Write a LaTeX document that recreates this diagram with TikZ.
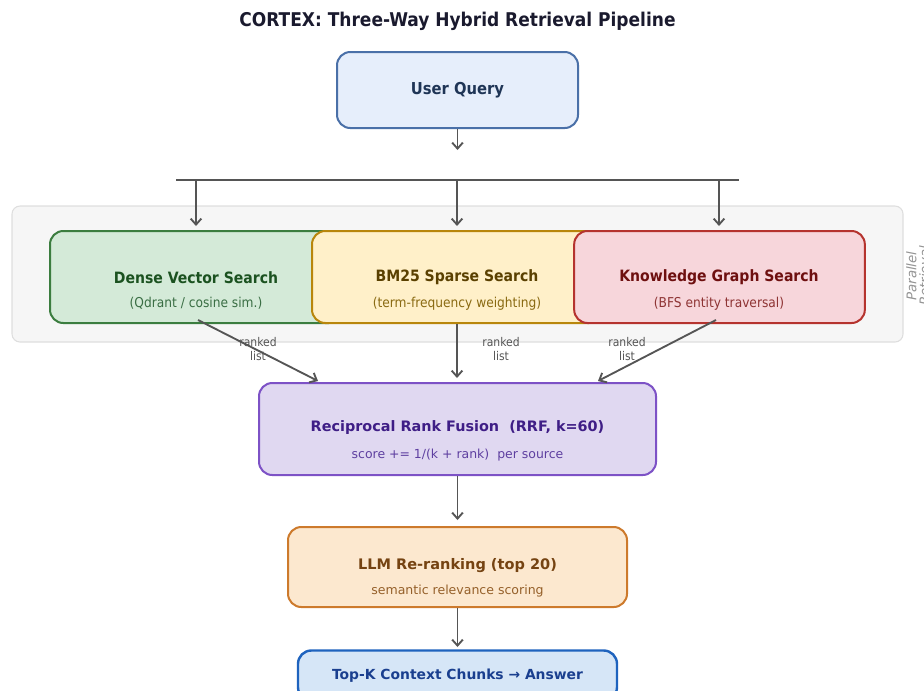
\documentclass[tikz,border=0pt]{standalone}
\usepackage{fontspec}
\setmainfont{DejaVu Sans}
\newfontfamily\cond{DejaVu Sans Condensed}
\usetikzlibrary{arrows.meta}
\definecolor{arrowc}{HTML}{555555}
\definecolor{uqfill}{HTML}{E6EEFB}\definecolor{uqdraw}{HTML}{4A70A8}\definecolor{uqtext}{HTML}{1F3556}
\definecolor{dvfill}{HTML}{D4EAD8}\definecolor{dvdraw}{HTML}{3B7D3F}\definecolor{dvtext}{HTML}{1B5220}\definecolor{dvsub}{HTML}{3A6E44}
\definecolor{bmfill}{HTML}{FFF0C9}\definecolor{bmdraw}{HTML}{B8860B}\definecolor{bmtext}{HTML}{5A4000}\definecolor{bmsub}{HTML}{8A6A12}
\definecolor{kgfill}{HTML}{F7D6DB}\definecolor{kgdraw}{HTML}{B5332E}\definecolor{kgtext}{HTML}{6E0F0F}\definecolor{kgsub}{HTML}{8E3434}
\definecolor{rrfill}{HTML}{E0D8F1}\definecolor{rrdraw}{HTML}{7D52C6}\definecolor{rrtext}{HTML}{3F1E86}\definecolor{rrsub}{HTML}{5E3FA0}
\definecolor{llfill}{HTML}{FCE8CF}\definecolor{lldraw}{HTML}{CD7A2C}\definecolor{lltext}{HTML}{754312}\definecolor{llsub}{HTML}{95602A}
\definecolor{tkfill}{HTML}{D6E6F7}\definecolor{tkdraw}{HTML}{1E63BE}\definecolor{tktext}{HTML}{1A3F8F}
\definecolor{panelfill}{HTML}{F6F6F6}\definecolor{paneldraw}{HTML}{DEDEDE}
\definecolor{titlec}{HTML}{1A1A2E}
\begin{document}
\begin{tikzpicture}[x=0.75pt,y=-0.75pt,
  box/.style={rounded corners=10pt,line width=1.5pt,inner sep=0pt},
  arr/.style={draw=arrowc,line width=1.4pt,-{Straight Barb[length=4.5pt,width=8pt]}},
  ttl/.style={font=\cond\bfseries\fontsize{11.7}{13}\selectfont},
  sub/.style={font=\cond\fontsize{10.2}{12}\selectfont},
  lbl/.style={font=\cond\fontsize{9}{10.5}\selectfont,text=arrowc,align=center}]
\useasboundingbox (0,0) rectangle (924,690);
\node[font=\cond\bfseries\fontsize{14.2}{16}\selectfont,text=titlec] (title) at (457.5,21) {CORTEX: Three-Way Hybrid Retrieval Pipeline};
% query
\node[box,fill=uqfill,draw=uqdraw,minimum width=180.75pt,minimum height=57pt] (uq) at (457.5,90) {};
\node[text=uqtext,font=\cond\bfseries\fontsize{12.3}{14}\selectfont] (uqt) at (457.5,90.5) {User Query};
\coordinate (qa) at (457.5,150);
\draw[arr] (uq.south) -- (qa);
% bar
\coordinate (barL) at (176,180);
\coordinate (barR) at (739,180);
\coordinate (b1) at (196,180);
\coordinate (b2) at (457,180);
\coordinate (b3) at (719,180);
\draw[draw=arrowc,line width=1.6pt] (barL) -- (barR);
% panel
\draw[fill=panelfill,draw=paneldraw,line width=0.8pt,rounded corners=6pt] (12,206) rectangle (903,342);
\node[font=\itshape\fontsize{10}{9.75}\selectfont,text=black!42,rotate=90,align=center] (par) at (918,276) {Parallel\\Retrieval};
% three boxes
\node[box,fill=dvfill,draw=dvdraw,minimum width=219pt,minimum height=69pt] (dv) at (196,277) {};
\node[box,fill=bmfill,draw=bmdraw,minimum width=217.5pt,minimum height=69pt] (bm) at (457,277) {};
\node[box,fill=kgfill,draw=kgdraw,minimum width=218pt,minimum height=69pt] (kg) at (719.5,277) {};
\node[ttl,text=dvtext] (dvt) at (196,277.5) {Dense Vector Search};
\node[sub,text=dvsub] (dvs) at (196,303.5) {(Qdrant / cosine sim.)};
\node[ttl,text=bmtext] (bmt) at (457,277.5) {BM25 Sparse Search};
\node[sub,text=bmsub] (bms) at (457,303.5) {(term-frequency weighting)};
\node[ttl,text=kgtext] (kgt) at (719,277.5) {Knowledge Graph Search};
\node[sub,text=kgsub] (kgs) at (719,303.5) {(BFS entity traversal)};
\draw[arr] (b1) -- (196,226);
\draw[arr] (b2) -- (457,226);
\draw[arr] (b3) -- (719,226);
% rrf
\node[box,fill=rrfill,draw=rrdraw,minimum width=297.75pt,minimum height=69pt] (rrf) at (457.5,429) {};
\node[font=\bfseries\fontsize{10.8}{13}\selectfont,text=rrtext] (rrt) at (457.5,427.5) {Reciprocal Rank Fusion\ \ (RRF, k=60)};
\node[font=\fontsize{9.35}{11}\selectfont,text=rrsub] (rrs) at (457.5,455.5) {score += 1/(k + rank)\ \ per source};
\coordinate (rL) at (318,381);
\coordinate (rM) at (457,378);
\coordinate (rR) at (598,381);
\draw[arr] (198,320) -- (rL);
\draw[arr] (bm.south) -- (rM);
\draw[arr] (716,320) -- (rR);
\node[lbl] (l1) at (258,349) {ranked\\list};
\node[lbl] (l2) at (501,349) {ranked\\list};
\node[lbl] (l3) at (627,349) {ranked\\list};
% llm
\node[box,fill=llfill,draw=lldraw,minimum width=254.25pt,minimum height=60pt] (llm) at (457.5,567) {};
\node[font=\bfseries\fontsize{10.9}{13}\selectfont,text=lltext] (llt) at (457.5,565.5) {LLM Re-ranking (top 20)};
\node[font=\fontsize{9.4}{11}\selectfont,text=llsub] (lls) at (457.5,591.5) {semantic relevance scoring};
\draw[arr] (rrf.south) -- (457.5,520);
% topk
\node[box,fill=tkfill,draw=tkdraw,line width=1.8pt,minimum width=239.25pt,minimum height=37.5pt] (tk) at (457.5,675.5) {};
\node[font=\bfseries\fontsize{10.4}{12}\selectfont,text=tktext] (tkt) at (457.5,676) {Top-K Context Chunks → Answer};
\draw[arr] (llm.south) -- (457.5,647);
\end{tikzpicture}
\end{document}
